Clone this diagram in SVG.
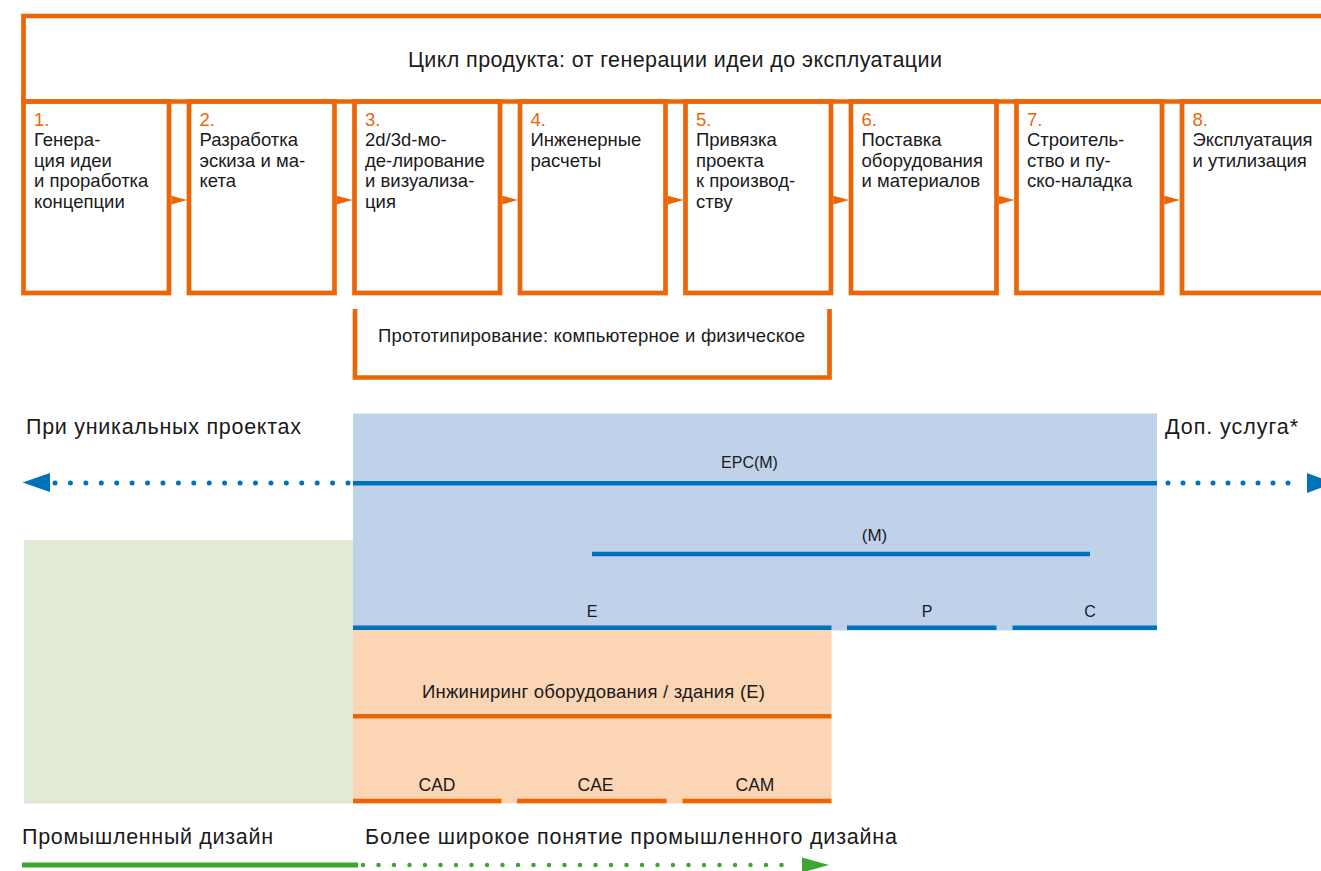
<svg xmlns="http://www.w3.org/2000/svg" width="1321" height="871" viewBox="0 0 1321 871">
<defs>
<style>
.o{fill:none;stroke:#ec6608;stroke-width:4.7}
.t{font-family:"Liberation Sans",Arial,sans-serif;fill:#1a1a1a}
.bt{font-size:18.5px}
.num{fill:#ec6608}
.lbl{font-size:16px}
.mid{font-size:18.5px}
.big{font-size:21.5px}
.bl{stroke:#0072bb;stroke-width:4.5;fill:none}
.ol{stroke:#ec6608;stroke-width:4.5;fill:none}
.tri{fill:#ec6608}
</style>
</defs>
<rect width="1321" height="871" fill="#fff"/>
<rect id="blue-area" x="353" y="413.5" width="804" height="217" fill="#c0d2ea"/>
<rect id="orange-area" x="353" y="630" width="478.5" height="173.5" fill="#fcd5b4"/>
<rect id="green-area" x="24" y="540" width="329" height="263.5" fill="#e0ead6"/>

<g id="header">
<path class="o" d="M1330,16 H23.5 V101.5 H1330"/>
<text class="t" font-size="21.5" x="408" y="67" textLength="534" lengthAdjust="spacing">Цикл продукта: от генерации идеи до эксплуатации</text>
</g>

<g id="step1"><rect class="o" x="23.5" y="101.5" width="145.5" height="191.5"/>
<text class="t bt" x="34" y="125.5"><tspan class="num">1.</tspan><tspan x="34" dy="20.5">Генера-</tspan><tspan x="34" dy="20.5">ция идеи</tspan><tspan x="34" dy="20.5">и проработка</tspan><tspan x="34" dy="20.5">концепции</tspan></text></g>
<g id="step2"><rect class="o" x="189" y="101.5" width="145.5" height="191.5"/>
<text class="t bt" x="199.5" y="125.5"><tspan class="num">2.</tspan><tspan x="199.5" dy="20.5">Разработка</tspan><tspan x="199.5" dy="20.5">эскиза и ма-</tspan><tspan x="199.5" dy="20.5">кета</tspan></text></g>
<g id="step3"><rect class="o" x="354.5" y="101.5" width="145.5" height="191.5"/>
<text class="t bt" x="365" y="125.5"><tspan class="num">3.</tspan><tspan x="365" dy="20.5">2d/3d-мо-</tspan><tspan x="365" dy="20.5">де-лирование</tspan><tspan x="365" dy="20.5">и визуализа-</tspan><tspan x="365" dy="20.5">ция</tspan></text></g>
<g id="step4"><rect class="o" x="520" y="101.5" width="145.5" height="191.5"/>
<text class="t bt" x="530.5" y="125.5"><tspan class="num">4.</tspan><tspan x="530.5" dy="20.5">Инженерные</tspan><tspan x="530.5" dy="20.5">расчеты</tspan></text></g>
<g id="step5"><rect class="o" x="685.5" y="101.5" width="145.5" height="191.5"/>
<text class="t bt" x="696" y="125.5"><tspan class="num">5.</tspan><tspan x="696" dy="20.5">Привязка</tspan><tspan x="696" dy="20.5">проекта</tspan><tspan x="696" dy="20.5">к производ-</tspan><tspan x="696" dy="20.5">ству</tspan></text></g>
<g id="step6"><rect class="o" x="851" y="101.5" width="145.5" height="191.5"/>
<text class="t bt" x="861.5" y="125.5"><tspan class="num">6.</tspan><tspan x="861.5" dy="20.5">Поставка</tspan><tspan x="861.5" dy="20.5">оборудования</tspan><tspan x="861.5" dy="20.5">и материалов</tspan></text></g>
<g id="step7"><rect class="o" x="1016.5" y="101.5" width="145.5" height="191.5"/>
<text class="t bt" x="1027" y="125.5"><tspan class="num">7.</tspan><tspan x="1027" dy="20.5">Строитель-</tspan><tspan x="1027" dy="20.5">ство и пу-</tspan><tspan x="1027" dy="20.5">ско-наладка</tspan></text></g>
<g id="step8"><rect class="o" x="1182" y="101.5" width="145.5" height="191.5"/>
<text class="t bt" x="1192.5" y="125.5"><tspan class="num">8.</tspan><tspan x="1192.5" dy="20.5">Эксплуатация</tspan><tspan x="1192.5" dy="20.5">и утилизация</tspan></text></g>

<g id="prototyping">
<path class="o" d="M355,309 V377.5 H829.5 V309"/>
<text class="t mid" x="378" y="342" textLength="427" lengthAdjust="spacing">Прототипирование: компьютерное и физическое</text>
</g>

<g id="connectors">
<polygon class="tri" points="171.3,195.8 187,200 171.3,204.5"/>
<polygon class="tri" points="336.8,195.8 352.5,200 336.8,204.5"/>
<polygon class="tri" points="502.3,195.8 518,200 502.3,204.5"/>
<polygon class="tri" points="667.8,195.8 683.5,200 667.8,204.5"/>
<polygon class="tri" points="833.3,195.8 849,200 833.3,204.5"/>
<polygon class="tri" points="998.8,195.8 1014.5,200 998.8,204.5"/>
<polygon class="tri" points="1164.3,195.8 1180,200 1164.3,204.5"/>
<line x1="348" y1="483" x2="55" y2="483" stroke="#0072bb" stroke-width="5" stroke-linecap="round" stroke-dasharray="0 15.42"/>
<polygon points="22.5,482.5 50,473 50,492" fill="#0072bb"/>
<line x1="1168" y1="483" x2="1303" y2="483" stroke="#0072bb" stroke-width="5" stroke-linecap="round" stroke-dasharray="0 15"/>
<polygon points="1307,473 1334,483 1307,493" fill="#0072bb"/>
<line x1="22" y1="865" x2="358" y2="865" stroke="#3fa535" stroke-width="5"/>
<line x1="363" y1="865" x2="797" y2="865" stroke="#3fa535" stroke-width="4.5" stroke-linecap="round" stroke-dasharray="0 15.5"/>
<polygon points="802,857.5 829,865 802,872.5" fill="#3fa535"/>
</g>

<g id="epc">
<line class="bl" x1="353" y1="483.3" x2="1157" y2="483.3"/>
<text class="t lbl" x="749.5" y="468" text-anchor="middle">EPC(M)</text>
</g>
<g id="m">
<line class="bl" x1="592" y1="554" x2="1090" y2="554"/>
<text class="t" font-size="17" x="874.5" y="541" text-anchor="middle">(M)</text>
</g>
<g id="e"><line class="bl" x1="353" y1="627.7" x2="831.5" y2="627.7"/><text class="t lbl" x="592" y="617" text-anchor="middle">E</text></g>
<g id="p"><line class="bl" x1="847" y1="627.7" x2="996.5" y2="627.7"/><text class="t lbl" x="927" y="617" text-anchor="middle">P</text></g>
<g id="c"><line class="bl" x1="1012.5" y1="627.7" x2="1157" y2="627.7"/><text class="t lbl" x="1090" y="617" text-anchor="middle">C</text></g>

<g id="engineering">
<line class="ol" x1="353" y1="716.3" x2="831.5" y2="716.3"/>
<text class="t mid" x="422" y="698" textLength="343" lengthAdjust="spacing">Инжиниринг оборудования / здания (E)</text>
</g>
<g id="cad"><line class="ol" x1="353" y1="801" x2="501.5" y2="801"/><text class="t" font-size="17.5" x="437" y="790.5" text-anchor="middle">CAD</text></g>
<g id="cae"><line class="ol" x1="517" y1="801" x2="666.5" y2="801"/><text class="t" font-size="17.5" x="595.5" y="790.5" text-anchor="middle">CAE</text></g>
<g id="cam"><line class="ol" x1="682.5" y1="801" x2="831.5" y2="801"/><text class="t" font-size="17.5" x="755" y="790.5" text-anchor="middle">CAM</text></g>

<g id="labels">
<text class="t big" x="26" y="434" textLength="275" lengthAdjust="spacing">При уникальных проектах</text>
<text class="t big" x="1165" y="434" textLength="133" lengthAdjust="spacing">Доп. услуга*</text>
<text class="t big" x="22" y="844" textLength="251" lengthAdjust="spacing">Промышленный дизайн</text>
<text class="t big" x="365" y="844" textLength="532" lengthAdjust="spacing">Более широкое понятие промышленного дизайна</text>
</g>
</svg>
